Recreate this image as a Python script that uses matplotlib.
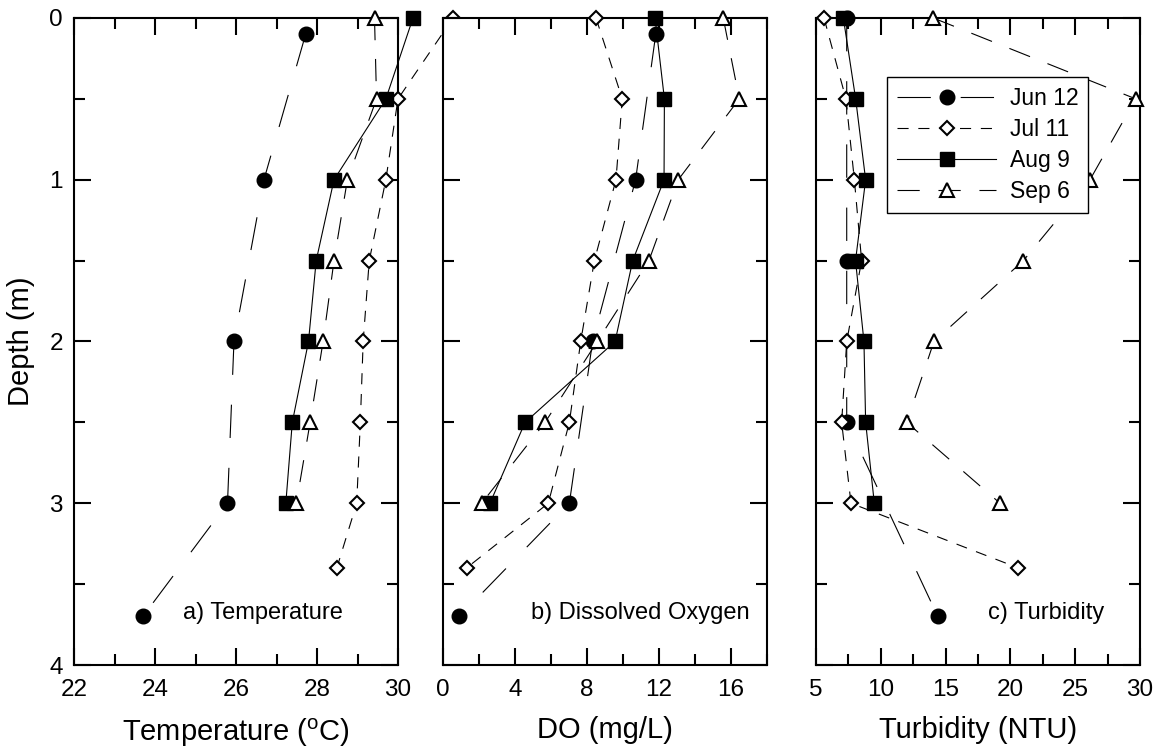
import matplotlib
matplotlib.use("Agg")
import matplotlib.pyplot as plt
from matplotlib.ticker import MultipleLocator

plt.rcParams['font.family'] = ['Liberation Sans', 'DejaVu Sans']
plt.rcParams['lines.scale_dashes'] = False

# ---------------- data ----------------
dates = ["Jun 12", "Jul 11", "Aug 9", "Sep 6"]

depth_jun = [0.1, 1, 2, 3, 3.7]
depth_jul = [0, 0.5, 1, 1.5, 2, 2.5, 3, 3.4]
depth_aug = [0, 0.5, 1, 1.5, 2, 2.5, 3]
depth_sep = [0, 0.5, 1, 1.5, 2, 2.5, 3]
turb_depth_jun = [0, 1.5, 2.5, 3.7]

temp_jun = [27.72, 26.69, 25.95, 25.79, 23.70]
temp_jul = [31.36, 30.0, 29.70, 29.29, 29.14, 29.07, 28.98, 28.49]
temp_aug = [30.37, 29.70, 28.42, 27.98, 27.79, 27.39, 27.23]
temp_sep = [29.42, 29.47, 28.75, 28.42, 28.15, 27.83, 27.49]

do_jun = [11.82, 10.70, 8.31, 7.02, 0.91]
do_jul = [8.5, 9.96, 9.61, 8.41, 7.65, 7.02, 5.85, 1.31]
do_aug = [11.78, 12.30, 12.28, 10.54, 9.56, 4.56, 2.61]
do_sep = [15.57, 16.46, 13.07, 11.44, 8.57, 5.67, 2.15]

turb_jun = [7.37, 7.37, 7.37, 14.40]
turb_jul = [5.62, 7.31, 7.96, 8.52, 7.37, 6.98, 7.70, 20.61]
turb_aug = [7.11, 8.06, 8.83, 8.05, 8.70, 8.83, 9.50]
turb_sep = [14.05, 29.67, 26.14, 21.00, 14.10, 12.0, 19.2]

temp_ticks = [22, 24, 26, 28, 30]
do_ticks = [0, 4, 8, 12, 16]
turb_ticks = [5, 10, 15, 20, 25, 30]
depth_ticks = [0, 1, 2, 3, 4]

# ---------------- styles ----------------
LW = 0.8
styles = [
    dict(marker='o', ms=10.5, mfc='black', mec='black', mew=1.0, ls=(0, (24, 21.5))),
    dict(marker='D', ms=7.2, mfc='white', mec='black', mew=1.5, ls=(0, (8, 7))),
    dict(marker='s', ms=9.5, mfc='black', mec='black', mew=1.0, ls='-'),
    dict(marker='^', ms=10.5, mfc='white', mec='black', mew=1.5, ls=(0, (16, 13.5))),
]

W, H = 1162, 755
fig = plt.figure(figsize=(W / 100, H / 100), dpi=100)

def make_ax(left_px):
    return fig.add_axes([left_px / W, 1 - 665 / H, 324 / W, 647 / H])

axa = make_ax(74)
axb = make_ax(443)
axc = make_ax(816)

panels = [
    (axa, [(depth_jun, temp_jun), (depth_jul, temp_jul), (depth_aug, temp_aug), (depth_sep, temp_sep)],
     (22, 30), temp_ticks, 1, 'Temperature ($\\mathregular{^o}$C)', 'a) Temperature', 183),
    (axb, [(depth_jun, do_jun), (depth_jul, do_jul), (depth_aug, do_aug), (depth_sep, do_sep)],
     (0, 18), do_ticks, 2, 'DO (mg/L)', 'b) Dissolved Oxygen', 531),
    (axc, [(turb_depth_jun, turb_jun), (depth_jul, turb_jul), (depth_aug, turb_aug), (depth_sep, turb_sep)],
     (5, 30), turb_ticks, 2.5, 'Turbidity (NTU)', 'c) Turbidity', 988),
]

for ax, series, xlim, xticks, xminor, xlabel, title, tx in panels:
    for (d, v), st, lab in zip(series, styles, dates):
        ax.plot(v, d, color='black', lw=LW, linestyle=st['ls'], marker=st['marker'],
                ms=st['ms'], mfc=st['mfc'], mec=st['mec'], mew=st['mew'],
                clip_on=False, zorder=3, label=lab)
    ax.set_xlim(*xlim)
    ax.set_ylim(4, 0)
    ax.set_xticks(xticks)
    ax.xaxis.set_minor_locator(MultipleLocator(xminor))
    ax.set_yticks(depth_ticks)
    ax.yaxis.set_minor_locator(MultipleLocator(0.5))
    ax.tick_params(which='both', direction='in', top=True, right=True, width=1.5,
                   labelsize=17.5, colors='black')
    ax.tick_params(which='major', length=12, pad=10)
    ax.tick_params(which='minor', length=8)
    for sp in ax.spines.values():
        sp.set_linewidth(1.5)
    ax.set_xlabel(xlabel, fontsize=21, labelpad=11)
    ax.text((tx - ax.get_position().x0 * W) / 324, 1 - 595 / 647, title,
            transform=ax.transAxes, fontsize=17, va='center', ha='left')

axa.set_ylabel('Depth (m)', fontsize=21, labelpad=10)
axa.tick_params(axis='y', pad=8)
axb.tick_params(axis='y', labelleft=False)
axc.tick_params(axis='y', labelleft=False)

leg = axc.legend(loc='upper left', bbox_to_anchor=(0.219, 0.909), borderaxespad=0,
                 fontsize=16.5, handlelength=4.3, handletextpad=0.6, labelspacing=0.34,
                 borderpad=0.45, numpoints=1, fancybox=False, framealpha=1,
                 edgecolor='black')
leg.get_frame().set_linewidth(1.0)

fig.savefig('out.png', dpi=100)
